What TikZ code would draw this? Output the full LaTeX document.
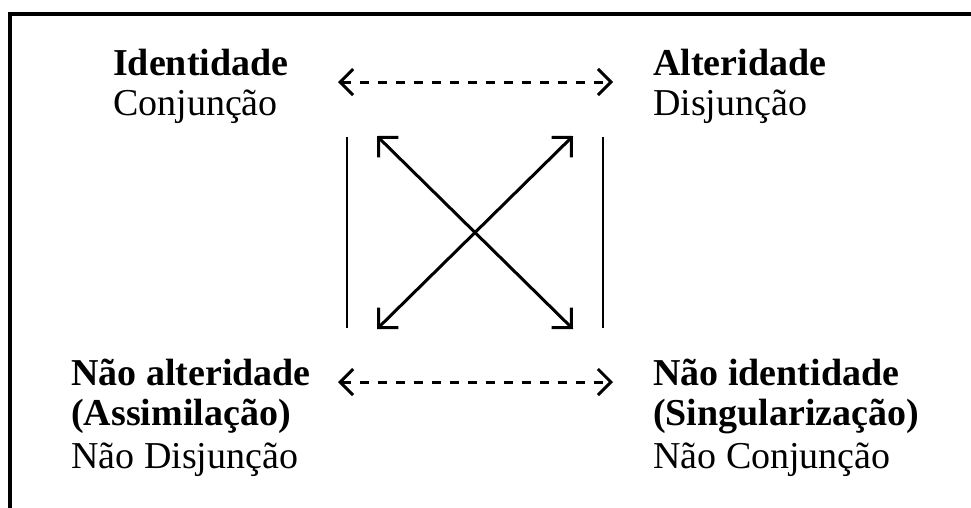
\documentclass[tikz,border=0pt]{standalone}
\usepackage{fontspec}
\setmainfont{Liberation Serif}
\usetikzlibrary{arrows.meta}
\begin{document}
\begin{tikzpicture}[x=1pt,y=-1pt,
  txt/.style={anchor=base west,inner sep=0pt,font=\fontsize{38}{42}\selectfont},
  hd/.style={txt,font=\fontsize{38}{42}\selectfont\bfseries},
  opp/.style={line width=3pt,dash pattern=on 9pt off 9pt,
    {Straight Barb[length=13pt,width=26pt,line width=3pt]}-{Straight Barb[length=13pt,width=26pt,line width=3pt]}},
  contra/.style={line width=3pt,
    {Straight Barb[length=14pt,width=28pt,line width=3pt]}-{Straight Barb[length=14pt,width=28pt,line width=3pt]}},
  impl/.style={line width=2.8pt}]
\useasboundingbox (0,0) rectangle (971,507);
% frame (open to the right and bottom)
\draw[line width=3.5pt] (10,520) -- (10,14) -- (980,14);

% corner labels
\node[hd]  (id)   at (113,75)  {Identidade};
\node[txt] (conj) at (113,115) {Conjunção};
\node[hd]  (alt)  at (653,75)  {Alteridade};
\node[txt] (disj) at (653,115) {Disjunção};
\node[hd]  (nalt) at (71,385)  {Não alteridade};
\node[hd]  (assi) at (71,425)  {(Assimilação)};
\node[txt] (ndis) at (71,468)  {Não Disjunção};
\node[hd]  (nid)  at (653,385) {Não identidade};
\node[hd]  (sing) at (653,425) {(Singularização)};
\node[txt] (ncon) at (653,468) {Não Conjunção};

% square of oppositions
\coordinate (tA) at (338,82);  \coordinate (tB) at (613,82);
\coordinate (bA) at (338,382); \coordinate (bB) at (613,382);
\coordinate (lT) at (347,137); \coordinate (lB) at (347,328);
\coordinate (rT) at (603,137); \coordinate (rB) at (603,328);
\coordinate (dTL) at (377,136); \coordinate (dTR) at (573,136);
\coordinate (dBL) at (377,329); \coordinate (dBR) at (573,329);

\draw[opp] (tA) -- (tB);
\draw[opp] (bA) -- (bB);
\draw[impl] (lT) -- (lB);
\draw[impl] (rT) -- (rB);
\draw[contra] (dTL) -- (dBR);
\draw[contra] (dTR) -- (dBL);
\end{tikzpicture}
\end{document}
